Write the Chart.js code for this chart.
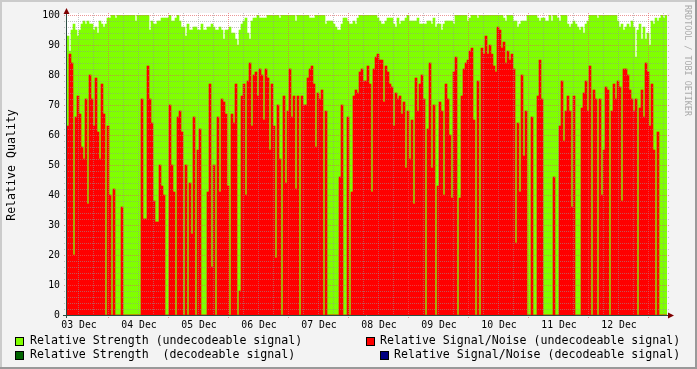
<!DOCTYPE html>
<html>
<head>
<meta charset="utf-8">
<title>Relative Quality</title>
<script src="https://cdn.jsdelivr.net/npm/chart.js@4.4.1/dist/chart.umd.min.js"></script>
<style>
  html, body { margin: 0; padding: 0; background: #f3f3f3; }
  canvas { display: block; }
</style>
</head>
<body>
<canvas id="chart-quality" width="697" height="369"></canvas>
<script>
// one sample per 2px column, 03 Dec .. 12 Dec
const snrUndecodeable = [
  63, 87, 84, 20, 66, 73, 67, 56, 52, 72,
  37, 80, 72, 63, 79, 61, 52, 77, 67, 0,
  63, 40, 0, 42, 0, 0, 0, 36, 0, 0,
  0, 0, 0, 0, 0, 0, 0, 72, 32, 32,
  83, 72, 64, 38, 31, 31, 50, 43, 40, 0,
  0, 70, 50, 41, 0, 66, 68, 61, 0, 50,
  0, 44, 27, 66, 0, 55, 62, 0, 0, 0,
  41, 77, 16, 50, 0, 66, 41, 72, 71, 67,
  43, 0, 67, 64, 77, 0, 8, 73, 77, 40,
  78, 84, 63, 80, 81, 73, 82, 80, 65, 82,
  79, 55, 77, 63, 19, 70, 52, 0, 73, 44,
  68, 82, 66, 73, 42, 73, 0, 73, 70, 70,
  79, 82, 83, 77, 56, 74, 72, 75, 0, 68,
  0, 0, 0, 0, 0, 0, 46, 70, 0, 0,
  66, 0, 41, 73, 75, 74, 81, 82, 78, 78,
  83, 77, 41, 82, 86, 87, 85, 85, 71, 83,
  81, 77, 76, 63, 74, 72, 73, 67, 71, 49,
  68, 52, 65, 37, 79, 68, 77, 80, 72, 0,
  62, 84, 49, 70, 0, 43, 71, 68, 40, 77,
  72, 60, 39, 81, 86, 0, 39, 73, 82, 84,
  85, 88, 89, 65, 0, 78, 0, 89, 87, 93,
  87, 90, 87, 83, 81, 96, 95, 89, 91, 84,
  88, 85, 87, 82, 24, 64, 41, 80, 53, 68,
  0, 0, 66, 0, 0, 73, 85, 72, 0, 0,
  0, 0, 0, 46, 0, 0, 63, 78, 58, 68,
  73, 68, 36, 73, 0, 0, 0, 69, 74, 78,
  68, 83, 0, 75, 72, 0, 72, 40, 55, 76,
  75, 0, 68, 77, 72, 78, 76, 38, 82, 82,
  80, 75, 72, 68, 72, 0, 69, 75, 66, 84,
  81, 63, 77, 55, 0, 61, 0, 0, 0, 0
];

const strengthUndecodeable = [
  93, 88, 95, 97, 95, 93, 95, 97, 98, 97,
  98, 97, 97, 95, 96, 94, 98, 97, 96, 97,
  99, 99, 100, 100, 99, 100, 100, 100, 100, 100,
  100, 100, 100, 100, 98, 100, 100, 100, 100, 100,
  100, 95, 98, 97, 97, 98, 98, 99, 99, 99,
  99, 100, 98, 98, 99, 100, 98, 96, 96, 93,
  97, 95, 95, 96, 96, 95, 95, 97, 95, 95,
  96, 96, 97, 96, 95, 95, 96, 95, 92, 95,
  95, 96, 94, 94, 92, 90, 95, 97, 98, 99,
  94, 92, 98, 99, 99, 100, 99, 99, 99, 99,
  100, 100, 100, 100, 100, 100, 99, 100, 100, 100,
  100, 100, 100, 100, 98, 100, 100, 100, 100, 100,
  100, 99, 99, 99, 100, 100, 100, 100, 100, 97,
  98, 98, 98, 97, 96, 95, 95, 97, 99, 99,
  98, 97, 97, 98, 97, 99, 100, 100, 100, 100,
  100, 100, 100, 100, 100, 99, 98, 97, 97, 98,
  99, 99, 99, 97, 96, 99, 97, 98, 98, 99,
  100, 98, 98, 98, 98, 99, 97, 97, 97, 97,
  98, 98, 97, 99, 96, 97, 97, 95, 97, 98,
  98, 98, 98, 97, 100, 100, 100, 100, 100, 100,
  98, 99, 100, 100, 100, 99, 100, 100, 100, 100,
  100, 100, 100, 100, 100, 100, 100, 100, 99, 98,
  100, 100, 100, 98, 98, 96, 97, 98, 98, 98,
  100, 100, 100, 100, 100, 99, 98, 99, 99, 98,
  98, 100, 98, 100, 100, 99, 98, 100, 100, 100,
  97, 96, 97, 98, 97, 96, 95, 96, 94, 97,
  98, 100, 100, 100, 100, 99, 100, 100, 100, 100,
  100, 100, 100, 100, 100, 98, 96, 97, 95, 96,
  97, 96, 98, 96, 86, 95, 97, 92, 96, 92,
  94, 90, 98, 97, 99, 98, 99, 100, 99, 100
];

// nothing decodeable in this period
const strengthDecodeable = [];
const snrDecodeable = [];

const dayLabels = ['03 Dec', '04 Dec', '05 Dec', '06 Dec', '07 Dec', '08 Dec', '09 Dec', '10 Dec', '11 Dec', '12 Dec'];
const yTicks = [0, 10, 20, 30, 40, 50, 60, 70, 80, 90, 100];

const samplesPerDay = 30;
const firstMidnight = 20;      // sample index of the first day line
const labelOffset = -14.5;     // day label sits left of its day line

const sampleIndex = snrUndecodeable.map(function (v, i) { return i; });

const MONO = '"DejaVu Sans Mono", monospace';

const rrdStyle = {
  id: 'rrdStyle',
  beforeDraw: function (chart) {
    const ctx = chart.ctx, a = chart.chartArea, w = chart.width, h = chart.height;
    ctx.save();
    ctx.fillStyle = '#f3f3f3';
    ctx.fillRect(0, 0, w, h);
    ctx.fillStyle = '#cbcbcb';
    ctx.fillRect(0, 0, w, 2);
    ctx.fillRect(0, 0, 2, h);
    ctx.fillStyle = '#999999';
    ctx.fillRect(0, h - 2, w, 2);
    ctx.fillRect(w - 2, 0, 2, h);
    ctx.fillStyle = '#ffffff';
    ctx.fillRect(a.left, a.top - 2, a.right - a.left, a.bottom - a.top + 2);
    ctx.restore();
  },
  afterDatasetsDraw: function (chart) {
    const ctx = chart.ctx, a = chart.chartArea;
    const xs = chart.scales.x, ys = chart.scales.y;
    ctx.save();
    ctx.lineWidth = 1;
    ctx.setLineDash([1, 1]);

    // minor grid
    ctx.strokeStyle = 'rgba(150,150,150,0.55)';
    ctx.beginPath();
    for (let v = 2; v < 100; v += 2) {
      if (v % 10 === 0) continue;
      const py = Math.round(ys.getPixelForValue(v)) + 0.5;
      ctx.moveTo(a.left - 3, py);
      ctx.lineTo(a.right + 2, py);
    }
    const step = samplesPerDay / 4;
    let start = firstMidnight;
    while (start - step >= -0.5) start -= step;
    for (let s = start; s < sampleIndex.length; s += step) {
      if ((s - firstMidnight) % samplesPerDay === 0) continue;
      const px = Math.round(xs.getPixelForValue(s)) + 0.5;
      ctx.moveTo(px, a.top - 2);
      ctx.lineTo(px, a.bottom + 2);
    }
    ctx.stroke();

    // major grid
    ctx.strokeStyle = 'rgba(224,96,96,0.65)';
    ctx.beginPath();
    yTicks.forEach(function (v) {
      if (v === 0) return;
      const py = Math.round(ys.getPixelForValue(v)) + 0.5;
      ctx.moveTo(a.left - 3, py);
      ctx.lineTo(a.right + 2, py);
    });
    for (let s = firstMidnight; s < sampleIndex.length; s += samplesPerDay) {
      const px = Math.round(xs.getPixelForValue(s)) + 0.5;
      ctx.moveTo(px, a.top - 2);
      ctx.lineTo(px, a.bottom + 3);
    }
    ctx.stroke();
    ctx.setLineDash([]);

    // axes
    ctx.strokeStyle = '#2c4d43';
    ctx.beginPath();
    const x0 = a.left - 0.5, y0 = Math.round(ys.getPixelForValue(0)) + 0.5;
    ctx.moveTo(x0, a.top - 3);
    ctx.lineTo(x0, a.bottom + 3);
    ctx.moveTo(a.left - 4, y0);
    ctx.lineTo(a.right + 3, y0);
    ctx.stroke();

    // arrows
    ctx.fillStyle = '#7f0000';
    ctx.beginPath();
    ctx.moveTo(x0, a.top - 7);
    ctx.lineTo(x0 - 3, a.top - 1);
    ctx.lineTo(x0 + 3, a.top - 1);
    ctx.closePath();
    ctx.fill();
    ctx.beginPath();
    ctx.moveTo(a.right + 7, y0);
    ctx.lineTo(a.right + 1, y0 - 3);
    ctx.lineTo(a.right + 1, y0 + 3);
    ctx.closePath();
    ctx.fill();
    ctx.restore();
  },
  afterDraw: function (chart) {
    const ctx = chart.ctx, a = chart.chartArea;
    const xs = chart.scales.x, ys = chart.scales.y;
    ctx.save();
    ctx.fillStyle = '#000000';

    // tick labels
    ctx.font = '9.8px ' + MONO;
    ctx.textAlign = 'right';
    ctx.textBaseline = 'middle';
    yTicks.forEach(function (v) {
      ctx.fillText(String(v), a.left - 7, ys.getPixelForValue(v) + 0.5);
    });
    ctx.textAlign = 'center';
    dayLabels.forEach(function (d, i) {
      const px = xs.getPixelForValue(firstMidnight + labelOffset + i * samplesPerDay);
      ctx.fillText(d, px, a.bottom + 10);
    });

    // vertical title
    ctx.font = '11.6px ' + MONO;
    ctx.save();
    ctx.translate(12, (a.top + a.bottom) / 2);
    ctx.rotate(-Math.PI / 2);
    ctx.textAlign = 'center';
    ctx.fillText('Relative Quality', 0, 0);
    ctx.restore();

    // credit on the right edge
    ctx.save();
    ctx.font = '8.4px ' + MONO;
    ctx.fillStyle = '#aaaaaa';
    ctx.translate(684, 5);
    ctx.rotate(Math.PI / 2);
    ctx.textAlign = 'left';
    ctx.textBaseline = 'middle';
    ctx.fillText('RRDTOOL / TOBI OETIKER', 0, -3);
    ctx.restore();

    // legend
    const ds = chart.data.datasets;
    const legend = [
      { d: ds[3], box: 15, text: 30, y: 341 },
      { d: ds[0], box: 366, text: 380, y: 341 },
      { d: ds[2], box: 15, text: 30, y: 355 },
      { d: ds[1], box: 380, text: 394, y: 355 }
    ];
    ctx.font = '11.6px ' + MONO;
    ctx.textAlign = 'left';
    ctx.textBaseline = 'middle';
    legend.forEach(function (l) {
      ctx.fillStyle = l.d.backgroundColor;
      ctx.fillRect(l.box, l.y - 4, 9, 9);
      ctx.strokeStyle = '#000000';
      ctx.lineWidth = 1;
      ctx.strokeRect(l.box + 0.5, l.y - 3.5, 8, 8);
      ctx.fillStyle = '#000000';
      ctx.fillText(l.d.label, l.text, l.y);
    });
    ctx.restore();
  }
};

new Chart(document.getElementById('chart-quality'), {
  type: 'bar',
  data: {
    labels: sampleIndex,
    datasets: [
      { label: 'Relative Signal/Noise (undecodeable signal)', data: snrUndecodeable, backgroundColor: '#ff0000', order: 0 },
      { label: 'Relative Signal/Noise (decodeable signal)', data: snrDecodeable, backgroundColor: '#000080', order: 1 },
      { label: 'Relative Strength  (decodeable signal)', data: strengthDecodeable, backgroundColor: '#006400', order: 2 },
      { label: 'Relative Strength (undecodeable signal)', data: strengthUndecodeable, backgroundColor: '#80ff00', order: 3 }
    ]
  },
  options: {
    responsive: false,
    animation: false,
    devicePixelRatio: 1,
    events: [],
    layout: { padding: { left: 67, right: 30, top: 15, bottom: 54 } },
    datasets: {
      bar: { grouped: false, barPercentage: 1, categoryPercentage: 1, borderWidth: 0 }
    },
    scales: {
      x: { display: false },
      y: { display: false, min: 0, max: 100 }
    },
    plugins: {
      legend: { display: false },
      tooltip: { enabled: false }
    }
  },
  plugins: [rrdStyle]
});
</script>
</body>
</html>
